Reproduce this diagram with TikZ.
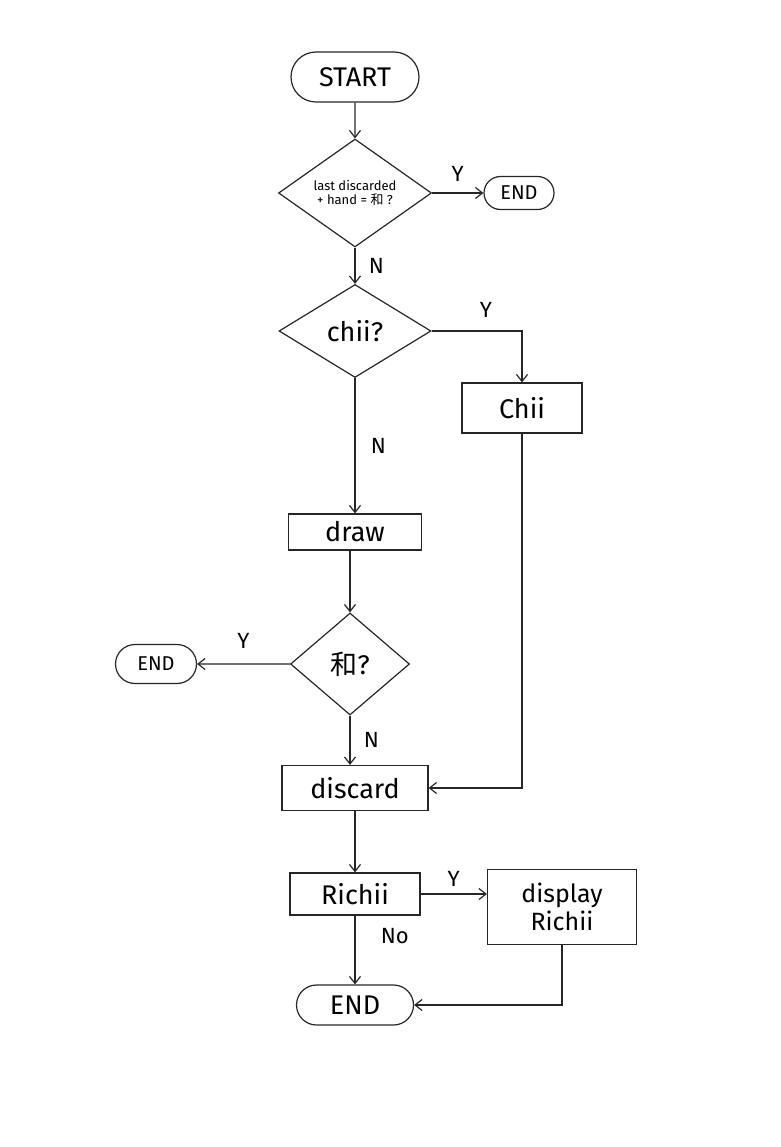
\documentclass[tikz,border=0pt]{standalone}
\usepackage{fontspec}
\setmainfont{Fira Sans}
\newfontfamily\cjk{Noto Sans CJK SC}
\usetikzlibrary{arrows.meta,positioning,shapes.geometric,shapes.misc}

\begin{document}
\begin{tikzpicture}[
  x=1pt, y=-1pt,
  line width=1.2pt, draw=black!85,
  font=\fontsize{27}{31}\selectfont,
  term/.style={
    draw, rounded rectangle, inner sep=0pt,
  },
  procbox/.style={
    draw, rectangle, inner sep=0pt,
  },
  ask/.style={
    draw, diamond, inner sep=0pt,
  },
  arr/.style={-{Straight Barb[length=7pt,width=11pt]}, line width=1.2pt},
  yn/.style={font=\fontsize{22}{26}\selectfont},
]
\useasboundingbox (0,0) rectangle (780,1147);
% main column
\node[term, minimum width=128, minimum height=50] (startn) at (355,77) {START};
\node[ask, minimum width=153, minimum height=97, font=\fontsize{13}{14}\selectfont,
  align=center] (hu1) at (355,193) {last discarded\\+ hand = {\cjk 和} ?};
\node[term, minimum width=70, minimum height=33, font=\fontsize{20}{24}\selectfont]
  (end1) at (519,193) {END};
\node[ask, minimum width=152, minimum height=93] (chiiq) at (355,331) {chii?};
\node[procbox, minimum width=120, minimum height=50] (chiibox) at (522,408) {Chii};
\node[procbox, minimum width=133, minimum height=36] (drawbox) at (355,532) {draw};
\node[ask, minimum width=119, minimum height=102] (hu2) at (350,664) {{\cjk 和}?};
\node[term, minimum width=81, minimum height=39, font=\fontsize{20}{24}\selectfont]
  (end2) at (156,664) {END};
\node[procbox, minimum width=146, minimum height=45] (discard) at (355,788) {discard};
\node[procbox, minimum width=130, minimum height=42] (richii) at (355,894) {Richii};
\node[procbox, minimum width=149, minimum height=75, align=center,
  font=\fontsize{25}{28}\selectfont] (disp) at (562,907) {display\\Richii};
\node[term, minimum width=117, minimum height=40] (endB) at (355,1005) {END};
% connectors
\draw[arr] (startn) -- (hu1);
\draw[arr] (hu1) -- (end1) node[yn, midway, above=8pt] {Y};
\draw[arr] (hu1) -- (chiiq) node[yn, midway, right=10pt] {N};
\draw[arr] (chiiq.east) -| (chiibox.north) node[yn, pos=0.3, above=10pt] {Y};
\draw[arr] (chiiq) -- (drawbox) node[yn, midway, right=12pt] {N};
\draw[arr] (drawbox.south -| hu2.north) -- (hu2);
\draw[arr] (hu2) -- (end2) node[yn, midway, above=12pt] {Y};
\draw[arr] (hu2) -- (hu2 |- discard.north) node[yn, midway, right=10pt] {N};
\draw[arr] (chiibox.south) |- (discard.east);
\draw[arr] (discard) -- (richii);
\draw[arr] (richii.east) -- (richii.east -| disp.west) node[yn, midway, above=4pt] {Y};
\draw[arr] (richii) -- (endB) node[yn, pos=0.3, right=22pt] {No};
\draw[arr] (disp.south) |- (endB.east);
\end{tikzpicture}
\end{document}
